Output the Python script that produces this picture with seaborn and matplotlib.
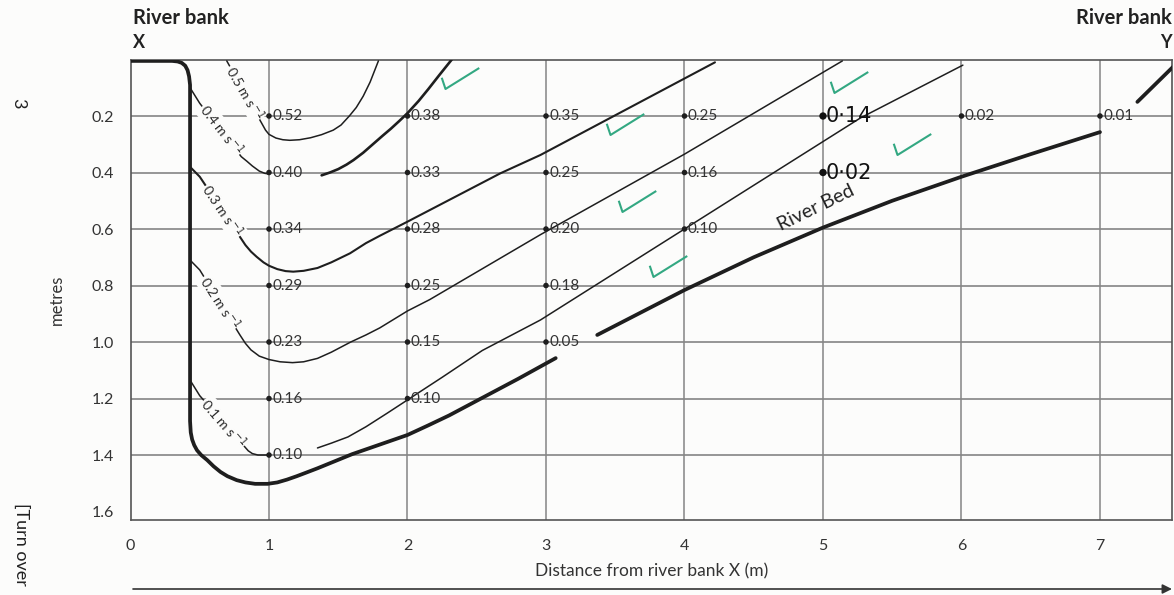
import matplotlib
matplotlib.use("Agg")
import matplotlib.pyplot as plt
import seaborn as sns
from matplotlib.path import Path

# ---- measured velocities (m s-1) at grid points: distance x (m), depth d (m) ----
dot_x = [1, 1, 1, 1, 1, 1, 1,
         2, 2, 2, 2, 2, 2,
         3, 3, 3, 3, 3,
         4, 4, 4,
         6, 7]
dot_d = [0.2, 0.4, 0.6, 0.8, 1.0, 1.2, 1.4,
         0.2, 0.4, 0.6, 0.8, 1.0, 1.2,
         0.2, 0.4, 0.6, 0.8, 1.0,
         0.2, 0.4, 0.6,
         0.2, 0.2]
dot_v = [0.52, 0.40, 0.34, 0.29, 0.23, 0.16, 0.10,
         0.38, 0.33, 0.28, 0.25, 0.15, 0.10,
         0.35, 0.25, 0.20, 0.18, 0.05,
         0.25, 0.16, 0.10,
         0.02, 0.01]

# values written in by hand at x = 5 m
hand_x = [5, 5]
hand_d = [0.2, 0.4]
hand_v = ["0·14", "0·02"]

# ---- isovels (lines of equal velocity); broken lines are kept as separate pieces ----
iso05_x = [0.695, 0.95, 0.975, 1.0, 1.05, 1.10, 1.15, 1.22, 1.30, 1.38, 1.464, 1.52, 1.58, 1.63, 1.68, 1.73, 1.79]
iso05_d = [0.005, 0.228, 0.250, 0.265, 0.278, 0.284, 0.286, 0.284, 0.277, 0.266, 0.250, 0.232, 0.200, 0.170, 0.130, 0.080, 0.005]

iso04a_x = [0.43, 0.50, 0.80, 0.84, 0.88, 0.93, 0.97, 1.0]
iso04a_d = [0.10, 0.155, 0.344, 0.360, 0.377, 0.395, 0.403, 0.405]
iso04b_x = [1.38, 1.44, 1.50, 1.56, 1.61, 1.68, 1.75, 1.82, 1.88, 1.94, 2.0, 2.08, 2.15, 2.23, 2.32]
iso04b_d = [0.41, 0.40, 0.388, 0.372, 0.356, 0.33, 0.30, 0.27, 0.245, 0.218, 0.19, 0.147, 0.105, 0.055, 0.0]

iso03_x = [0.43, 0.50, 0.83, 0.87, 0.91, 0.96, 1.0, 1.06, 1.12, 1.175, 1.25, 1.35, 1.45, 1.585, 1.70, 1.80,
           2.0, 2.67, 2.96, 4.22]
iso03_d = [0.38, 0.415, 0.657, 0.680, 0.698, 0.718, 0.730, 0.742, 0.749, 0.751, 0.748, 0.738, 0.718, 0.686, 0.650,
           0.624, 0.574, 0.403, 0.338, 0.01]

iso02_x = [0.43, 0.50, 0.79, 0.83, 0.87, 0.93, 1.0, 1.08, 1.17, 1.25, 1.35, 1.45, 1.52, 1.59, 1.70, 1.80, 1.90,
           2.0, 2.16, 2.96, 4.0, 5.14]
iso02_d = [0.71, 0.745, 0.975, 1.005, 1.028, 1.05, 1.062, 1.07, 1.073, 1.07, 1.058, 1.036, 1.018, 1.0, 0.975,
           0.95, 0.92, 0.89, 0.85, 0.62, 0.335, 0.005]

iso01a_x = [0.43, 0.50, 0.85, 0.88, 0.92, 1.0]
iso01a_d = [1.135, 1.19, 1.385, 1.395, 1.40, 1.40]
iso01b_x = [1.35, 1.45, 1.57, 1.70, 1.85, 2.0, 2.25, 2.54, 2.96, 4.0, 5.27, 6.01]
iso01b_d = [1.375, 1.358, 1.336, 1.30, 1.253, 1.205, 1.125, 1.03, 0.922, 0.60, 0.207, 0.02]

# ---- river bed profile (three drawn pieces) ----
bed1_x = [0.0, 0.30, 0.34, 0.37, 0.395, 0.412, 0.423, 0.43, 0.43, 0.435, 0.445, 0.46, 0.48, 0.51, 0.554,
          0.60, 0.65, 0.70, 0.767, 0.83, 0.90, 0.99, 1.06, 1.13, 1.20, 1.27, 1.35, 1.47, 1.60, 1.80, 2.0,
          2.15, 2.30, 2.55, 2.80, 3.07]
bed1_d = [0.005, 0.005, 0.007, 0.012, 0.022, 0.038, 0.060, 0.09, 1.28, 1.32, 1.345, 1.365, 1.383, 1.40, 1.418,
          1.44, 1.46, 1.475, 1.489, 1.497, 1.502, 1.502, 1.497, 1.487, 1.475, 1.462, 1.447, 1.423, 1.397, 1.363,
          1.329, 1.295, 1.26, 1.195, 1.13, 1.057]
bed2_x = [3.37, 4.0, 4.5, 5.0, 5.5, 6.0, 6.5, 7.0]
bed2_d = [0.975, 0.816, 0.70, 0.595, 0.50, 0.415, 0.335, 0.257]
bed3_x = [7.27, 7.54]
bed3_d = [0.15, 0.02]

# ---- isovel labels: text, centre, rotation ----
iso_labels = [r"0.5 m s$^{-1}$", r"0.4 m s$^{-1}$", r"0.3 m s$^{-1}$", r"0.2 m s$^{-1}$", r"0.1 m s$^{-1}$"]
iso_label_x = [0.825, 0.655, 0.665, 0.645, 0.675]
iso_label_d = [0.118, 0.25, 0.536, 0.86, 1.287]
iso_label_rot = [-60, -52, -56, -57, -49]

# ---- tick marks written beside the answers ----
check_x = [2.38, 3.57, 3.66, 3.88, 5.19, 5.64]
check_d = [0.065, 0.23, 0.50, 0.73, 0.08, 0.30]

x_ticks = [0, 1, 2, 3, 4, 5, 6, 7]
y_ticks = [0.2, 0.4, 0.6, 0.8, 1.0, 1.2, 1.4, 1.6]
y_grid = [0.2, 0.4, 0.6, 0.8, 1.0, 1.2, 1.4]
x_grid = [1, 2, 3, 4, 5, 6, 7]

BG = "#fcfcfb"
INK = "#1e1e1e"
GRID = "#858585"
GREEN = "#33a882"

sns.set_theme(style="white")
plt.rcParams["font.family"] = ["Lato", "DejaVu Sans"]
plt.rcParams["mathtext.fontset"] = "dejavusans"

fig = plt.figure(figsize=(11.74, 5.95), dpi=100, facecolor=BG)
ax = fig.add_axes([130.5 / 1174, 75 / 595, (1172 - 130.5) / 1174, 460.5 / 595])
ax.set_facecolor(BG)

ax.set_xlim(0, 7.52)
ax.set_ylim(1.63, 0)

for g in y_grid:
    ax.axhline(g, color=GRID, lw=1.2, zorder=0)
for g in x_grid:
    ax.axvline(g, color=GRID, lw=1.1, zorder=0)


def draw(xs, ds, lw, color=INK):
    sns.lineplot(x=xs, y=ds, sort=False, estimator=None, ax=ax, color=color,
                 lw=lw, solid_capstyle="round", solid_joinstyle="round", zorder=3)


draw(iso05_x, iso05_d, 1.1)
draw(iso04a_x, iso04a_d, 1.1)
draw(iso04b_x, iso04b_d, 1.9)
draw(iso03_x, iso03_d, 1.5)
draw(iso02_x, iso02_d, 1.1)
draw(iso01a_x, iso01a_d, 1.1)
draw(iso01b_x, iso01b_d, 1.1)

draw(bed1_x, bed1_d, 2.7)
draw(bed2_x, bed2_d, 2.7)
draw(bed3_x, bed3_d, 2.7)

for t, x, d, r in zip(iso_labels, iso_label_x, iso_label_d, iso_label_rot):
    ax.text(x, d, t, rotation=r, rotation_mode="anchor", ha="center", va="center",
            fontsize=10, color="#2a2a2a", zorder=4,
            bbox=dict(boxstyle="square,pad=0.05", fc=BG, ec="none"))

# printed measurement points
sns.scatterplot(x=dot_x, y=dot_d, ax=ax, color=INK, s=16, edgecolor="none", zorder=5, legend=False)
for x, d, v in zip(dot_x, dot_d, dot_v):
    ax.annotate(f"{v:.2f}", (x, d), xytext=(2.5, 0), textcoords="offset points",
                ha="left", va="center", fontsize=11, color="#333333", zorder=5)

# hand-written points
sns.scatterplot(x=hand_x, y=hand_d, ax=ax, color="#111111", s=28, edgecolor="none", zorder=5, legend=False)
for x, d, v in zip(hand_x, hand_d, hand_v):
    ax.annotate(v, (x, d), xytext=(2, 0), textcoords="offset points",
                ha="left", va="center", fontsize=15, color="#111111",
                family=["DejaVu Sans"], zorder=5)

# check marks
check_marker = Path([(-0.5, 0.02), (-0.40, -0.28), (0.5, 0.28)],
                    [Path.MOVETO, Path.LINETO, Path.LINETO])
ax.plot(check_x, check_d, linestyle="none", marker=check_marker, markersize=27,
        markerfacecolor="none", markeredgecolor=GREEN, markeredgewidth=1.5, zorder=6)

ax.text(4.95, 0.525, "River Bed", rotation=26, rotation_mode="anchor", ha="center", va="center",
        fontsize=14, color="#222222", zorder=5)

# axes, ticks and labels
for s in ax.spines.values():
    s.set_visible(True)
    s.set_color("#555555")
    s.set_linewidth(1.2)

ax.set_xticks(x_ticks)
ax.set_xticklabels([str(v) for v in x_ticks])
ax.set_yticks(y_ticks)
ax.set_yticklabels([f"{v:.1f}" for v in y_ticks])
ax.tick_params(axis="both", which="major", direction="out", length=6, width=1.0,
               color="#666666", labelsize=11.5, labelcolor="#333333")
ax.tick_params(axis="x", pad=8)
ax.tick_params(axis="y", pad=6)
ax.set_xlabel("Distance from river bank X (m)", fontsize=12.5, color="#333333", labelpad=7)
ax.set_ylabel("metres", fontsize=12, color="#333333")
ax.yaxis.set_label_coords(-0.063, 0.478)

# bank headings
fig.text(133 / 1174, 1 - 18 / 595, "River bank", ha="left", va="center",
         fontsize=14.5, fontweight="bold", color="#222222")
fig.text(133 / 1174, 1 - 42 / 595, "X", ha="left", va="center",
         fontsize=13, fontweight="bold", color="#222222")
fig.text(1172 / 1174, 1 - 18 / 595, "River bank", ha="right", va="center",
         fontsize=14.5, fontweight="bold", color="#222222")
fig.text(1172 / 1174, 1 - 42 / 595, "Y", ha="right", va="center",
         fontsize=13, fontweight="bold", color="#222222")

# page furniture
fig.text(18 / 1174, 1 - 103 / 595, "3", rotation=-90, ha="center", va="center",
         fontsize=13, color="#222222")
fig.text(21 / 1174, 1 - 503 / 595, "[Turn over", rotation=-90, ha="center", va="top",
         fontsize=13, color="#222222")

# direction arrow under the axis
ax.annotate("", xy=(1172, 6), xytext=(133, 6), xycoords="figure pixels",
            textcoords="figure pixels",
            arrowprops=dict(arrowstyle="-|>", lw=1.2, color="#333333", mutation_scale=14,
                            shrinkA=0, shrinkB=0))

fig.savefig("out.png", dpi=100, facecolor=BG)
